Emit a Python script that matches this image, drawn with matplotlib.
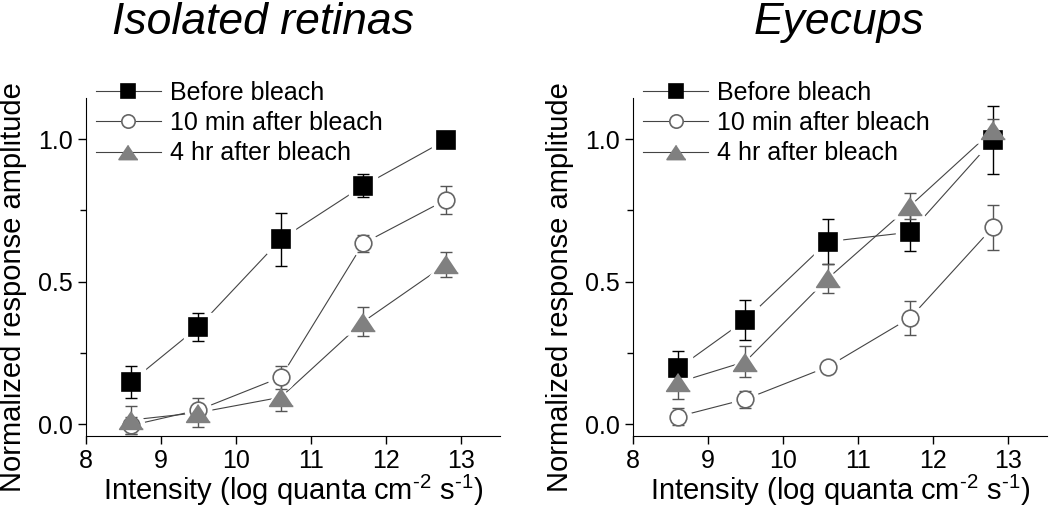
import numpy as np
import matplotlib.pyplot as plt

plt.rcParams['font.family'] = ['Liberation Sans', 'DejaVu Sans']
plt.rcParams['mathtext.fontset'] = 'custom'
plt.rcParams['mathtext.rm'] = 'Liberation Sans'

# log intensity (log quanta cm-2 s-1)
x = [8.6, 9.5, 10.6, 11.7, 12.8]

# isolated retinas
ret_before     = [0.148, 0.341, 0.648, 0.836, 0.996]
ret_before_err = [0.055, 0.050, 0.093, 0.040, 0.015]
ret_10min      = [-0.005, 0.049, 0.164, 0.634, 0.786]
ret_10min_err  = [0.030, 0.020, 0.040, 0.030, 0.050]
ret_4hr        = [0.014, 0.040, 0.094, 0.359, 0.560]
ret_4hr_err    = [0.050, 0.050, 0.050, 0.050, 0.045]

# eyecups
eye_before     = [0.195, 0.365, 0.640, 0.673, 0.996]
eye_before_err = [0.060, 0.070, 0.080, 0.065, 0.120]
eye_10min      = [0.026, 0.087, 0.201, 0.373, 0.690]
eye_10min_err  = [0.030, 0.030, 0.015, 0.060, 0.080]
eye_4hr        = [0.146, 0.219, 0.511, 0.766, 1.030]
eye_4hr_err    = [0.058, 0.055, 0.050, 0.045, 0.040]

labels = ["Before bleach", "10 min after bleach", "4 hr after bleach"]
titles = ["Isolated retinas", "Eyecups"]

tri = [(0, 0.75), (-1, -0.75), (1, -0.75)]
styles = [
    dict(marker='s', ms=13, mfc='black', mec='black', ecol='black'),
    dict(marker='o', ms=12, mfc='white', mec='#666666', ecol='#555555'),
    dict(marker=tri, ms=17, mfc='#808080', mec='#808080', ecol='#555555'),
]

fig = plt.figure(figsize=(10.5, 5.14), dpi=100)
ax1 = fig.add_axes([0.0819, 0.1518, 0.394, 0.6576])
ax2 = fig.add_axes([0.6029, 0.1518, 0.394, 0.6576])

panels = [
    (ax1, [(ret_before, ret_before_err), (ret_10min, ret_10min_err), (ret_4hr, ret_4hr_err)]),
    (ax2, [(eye_before, eye_before_err), (eye_10min, eye_10min_err), (eye_4hr, eye_4hr_err)]),
]

for ax, series in panels:
    handles = []
    for (y, e), st, lab in zip(series, styles, labels):
        ax.plot(x, y, '-', color='#444444', lw=0.8, zorder=1)
        # white halo so the connecting line stops short of the marker
        ax.plot(x, y, ls='none', marker=st['marker'], ms=st['ms'] + 7,
                mfc='white', mec='white', zorder=2)
    for (y, e), st, lab in zip(series, styles, labels):
        ax.errorbar(x, y, yerr=e, fmt='none', ecolor=st['ecol'], elinewidth=1.0,
                    capsize=4, capthick=1.0, zorder=3)
        ax.plot(x, y, ls='none', marker=st['marker'], ms=st['ms'], mfc=st['mfc'],
                mec=st['mec'], mew=1.2, zorder=4)
        h, = ax.plot([], [], '-', color='#444444', lw=0.8, marker=st['marker'],
                     ms=st['ms'] * 0.8, mfc=st['mfc'], mec=st['mec'], mew=1.2)
        handles.append(h)

    ax.set_xlim(8, 13.52)
    ax.set_ylim(-0.042, 1.144)
    ax.set_xticks([8, 9, 10, 11, 12, 13])
    ax.set_yticks([0.0, 0.5, 1.0])
    ax.set_yticks([0.25, 0.75], minor=True)
    ax.set_yticklabels(["0.0", "0.5", "1.0"])
    ax.tick_params(axis='both', which='major', labelsize=18, length=6, width=1, direction='out')
    ax.tick_params(axis='y', which='minor', length=4, width=1, direction='out')
    for s in ['top', 'right']:
        ax.spines[s].set_visible(False)
    ax.set_xlabel(r"Intensity (log quanta cm$^{\mathregular{\text{-}2}}$ s$^{\mathregular{\text{-}1}}$)",
                  fontsize=21, labelpad=0)
    ax.set_ylabel("Normalized response amplitude", fontsize=21)
    ax.yaxis.set_label_coords(-0.143, 0.44)
    ax.legend(handles, labels, loc='upper left', bbox_to_anchor=(0.0, 1.08),
              frameon=False, fontsize=18, handlelength=2.6, handletextpad=0.35,
              labelspacing=0.25, borderaxespad=0)

fig.text(0.2505, 0.934, titles[0], fontsize=32, style='italic', ha='center', va='baseline')
fig.text(0.799, 0.934, titles[1], fontsize=32, style='italic', ha='center', va='baseline')

fig.savefig("out.png", dpi=100)
